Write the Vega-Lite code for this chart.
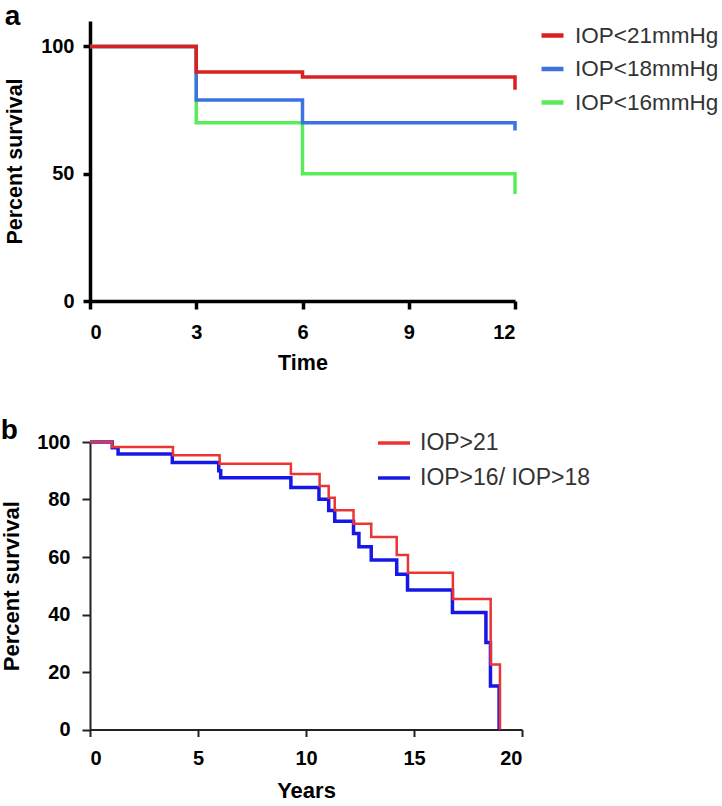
{
  "$schema": "https://vega.github.io/schema/vega-lite/v6.json",
  "background": "white",
  "padding": {"left": 0, "top": 3, "right": 0, "bottom": 0},
  "spacing": 43,
  "resolve": {"scale": {"color": "independent"}, "legend": {"color": "independent"}},
  "config": {"font": "Liberation Sans", "view": {"stroke": null}},
  "vconcat": [
    {
      "width": 425,
      "height": 280,
      "title": {"text": "a", "anchor": "start", "frame": "bounds", "fontSize": 28, "fontWeight": "bold", "color": "black", "offset": -32, "baseline": "alphabetic"},
      "data": {"values": [
        {"group": "IOP<16mmHg", "i": 1, "time": 0, "survival": 100},
        {"group": "IOP<16mmHg", "i": 2, "time": 3, "survival": 70},
        {"group": "IOP<16mmHg", "i": 3, "time": 6, "survival": 50},
        {"group": "IOP<16mmHg", "i": 4, "time": 12, "survival": 50},
        {"group": "IOP<16mmHg", "i": 5, "time": 12, "survival": 42},
        {"group": "IOP<18mmHg", "i": 1, "time": 0, "survival": 100},
        {"group": "IOP<18mmHg", "i": 2, "time": 3, "survival": 79},
        {"group": "IOP<18mmHg", "i": 3, "time": 6, "survival": 70},
        {"group": "IOP<18mmHg", "i": 4, "time": 12, "survival": 70},
        {"group": "IOP<18mmHg", "i": 5, "time": 12, "survival": 67},
        {"group": "IOP<21mmHg", "i": 1, "time": 0, "survival": 100},
        {"group": "IOP<21mmHg", "i": 2, "time": 3, "survival": 90},
        {"group": "IOP<21mmHg", "i": 3, "time": 6, "survival": 88},
        {"group": "IOP<21mmHg", "i": 4, "time": 12, "survival": 88},
        {"group": "IOP<21mmHg", "i": 5, "time": 12, "survival": 83}
      ]},
      "mark": {"type": "line", "interpolate": "step-after", "strokeWidth": 3.5},
      "encoding": {
        "x": {"field": "time", "type": "quantitative", "scale": {"domain": [0, 12], "nice": false},
          "axis": {"values": [0, 3, 6, 9, 12], "title": "Time", "grid": false, "domainWidth": 3.5, "domainColor": "black", "tickWidth": 3.5, "tickColor": "black", "tickSize": 8, "labelFontSize": 20, "labelFontWeight": "bold", "labelColor": "black", "labelPadding": 13, "titleFontSize": 21.5, "titleFontWeight": "bold", "titlePadding": 10, "titleColor": "black"}},
        "y": {"field": "survival", "type": "quantitative", "scale": {"domain": [0, 110], "nice": false},
          "axis": {"values": [0, 50, 100], "title": "Percent survival", "grid": false, "domainWidth": 3.5, "domainColor": "black", "tickWidth": 3.5, "tickColor": "black", "tickSize": 7, "labelFontSize": 20, "labelFontWeight": "bold", "labelColor": "black", "labelPadding": 9, "titleFontSize": 21.5, "titleFontWeight": "bold", "titlePadding": 14, "titleColor": "black"}},
        "color": {"field": "group", "type": "nominal",
          "scale": {"domain": ["IOP<21mmHg", "IOP<18mmHg", "IOP<16mmHg"], "range": ["#dc1f1f", "#3d72e3", "#5aeb5a"]},
          "legend": {"orient": "none", "legendX": 449, "legendY": 1, "title": null, "symbolType": "stroke", "symbolSize": 484, "symbolStrokeWidth": 4.5, "labelFontSize": 22.5, "labelColor": "#333333", "labelOffset": 9, "rowPadding": 8.5, "labelLimit": 400}},
        "order": {"field": "i", "type": "quantitative"}
      }
    },
    {
      "width": 432,
      "height": 287.5,
      "title": {"text": "b", "anchor": "start", "frame": "bounds", "fontSize": 28, "fontWeight": "bold", "color": "black", "offset": -42, "baseline": "alphabetic"},
      "data": {"values": [
        {"group": "IOP>16/ IOP>18", "i": 1, "years": 0, "survival": 100},
        {"group": "IOP>16/ IOP>18", "i": 2, "years": 1.03, "survival": 98},
        {"group": "IOP>16/ IOP>18", "i": 3, "years": 1.3, "survival": 95.8},
        {"group": "IOP>16/ IOP>18", "i": 4, "years": 3.81, "survival": 92.9},
        {"group": "IOP>16/ IOP>18", "i": 5, "years": 5.96, "survival": 90},
        {"group": "IOP>16/ IOP>18", "i": 6, "years": 6.05, "survival": 87.6},
        {"group": "IOP>16/ IOP>18", "i": 7, "years": 9.3, "survival": 84.2},
        {"group": "IOP>16/ IOP>18", "i": 8, "years": 10.6, "survival": 80.1},
        {"group": "IOP>16/ IOP>18", "i": 9, "years": 11.05, "survival": 76.2},
        {"group": "IOP>16/ IOP>18", "i": 10, "years": 11.33, "survival": 72.4},
        {"group": "IOP>16/ IOP>18", "i": 11, "years": 12.2, "survival": 68.2},
        {"group": "IOP>16/ IOP>18", "i": 12, "years": 12.45, "survival": 63.6},
        {"group": "IOP>16/ IOP>18", "i": 13, "years": 13.02, "survival": 59},
        {"group": "IOP>16/ IOP>18", "i": 14, "years": 14.2, "survival": 54},
        {"group": "IOP>16/ IOP>18", "i": 15, "years": 14.7, "survival": 48.5},
        {"group": "IOP>16/ IOP>18", "i": 16, "years": 16.78, "survival": 40.7},
        {"group": "IOP>16/ IOP>18", "i": 17, "years": 18.33, "survival": 30.3},
        {"group": "IOP>16/ IOP>18", "i": 18, "years": 18.54, "survival": 15.1},
        {"group": "IOP>16/ IOP>18", "i": 19, "years": 18.94, "survival": 0},
        {"group": "IOP>21", "i": 1, "years": 0, "survival": 100},
        {"group": "IOP>21", "i": 2, "years": 1.03, "survival": 98.3},
        {"group": "IOP>21", "i": 3, "years": 3.84, "survival": 95.4},
        {"group": "IOP>21", "i": 4, "years": 6.0, "survival": 92.4},
        {"group": "IOP>21", "i": 5, "years": 9.3, "survival": 88.9},
        {"group": "IOP>21", "i": 6, "years": 10.63, "survival": 84.7},
        {"group": "IOP>21", "i": 7, "years": 11.05, "survival": 80.6},
        {"group": "IOP>21", "i": 8, "years": 11.33, "survival": 76.3},
        {"group": "IOP>21", "i": 9, "years": 12.2, "survival": 71.6},
        {"group": "IOP>21", "i": 10, "years": 13.02, "survival": 67},
        {"group": "IOP>21", "i": 11, "years": 14.2, "survival": 60.7},
        {"group": "IOP>21", "i": 12, "years": 14.72, "survival": 54.5},
        {"group": "IOP>21", "i": 13, "years": 16.8, "survival": 45.4},
        {"group": "IOP>21", "i": 14, "years": 18.55, "survival": 22.6},
        {"group": "IOP>21", "i": 15, "years": 18.98, "survival": 0}
      ]},
      "encoding": {
        "x": {"field": "years", "type": "quantitative", "scale": {"domain": [0, 20], "nice": false},
          "axis": {"values": [0, 5, 10, 15, 20], "title": "Years", "grid": false, "domainWidth": 2, "domainColor": "#222222", "tickWidth": 2, "tickColor": "#222222", "tickSize": 7, "labelFontSize": 20, "labelFontWeight": "bold", "labelColor": "black", "labelPadding": 12, "titleFontSize": 22, "titleFontWeight": "bold", "titlePadding": 12, "titleColor": "black"}},
        "y": {"field": "survival", "type": "quantitative", "scale": {"domain": [0, 100], "nice": false},
          "axis": {"values": [0, 20, 40, 60, 80, 100], "title": "Percent survival", "grid": false, "domainWidth": 2, "domainColor": "#222222", "tickWidth": 2, "tickColor": "#222222", "tickSize": 8, "labelFontSize": 20, "labelFontWeight": "bold", "labelColor": "black", "labelPadding": 12, "titleFontSize": 22, "titleFontWeight": "bold", "titlePadding": 13, "titleColor": "black"}},
        "color": {"field": "group", "type": "nominal",
          "scale": {"domain": ["IOP>21", "IOP>16/ IOP>18"], "range": ["#ec3434", "#1818e6"]},
          "legend": {"orient": "none", "legendX": 286, "legendY": -17, "title": null, "symbolType": "stroke", "symbolSize": 1024, "symbolStrokeWidth": 3.5, "labelFontSize": 23, "labelColor": "#333333", "labelOffset": 8, "rowPadding": 5, "labelLimit": 400}},
        "order": {"field": "i", "type": "quantitative"}
      },
      "layer": [
        {"transform": [{"filter": "datum.group === 'IOP>16/ IOP>18'"}], "mark": {"type": "line", "interpolate": "step-after", "strokeWidth": 3.5}},
        {"transform": [{"filter": "datum.group === 'IOP>21'"}], "mark": {"type": "line", "interpolate": "step-after", "strokeWidth": 2.5}}
      ]
    }
  ]
}
